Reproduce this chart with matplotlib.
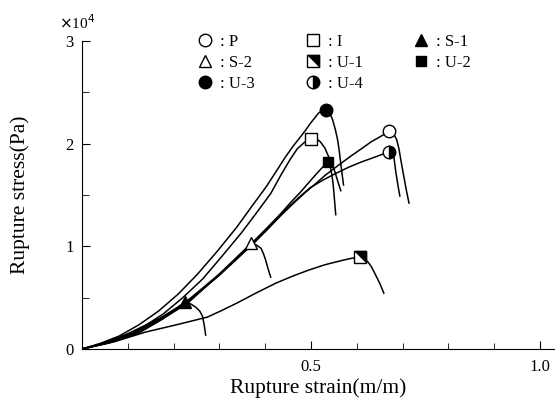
import matplotlib.pyplot as plt
from matplotlib.ticker import MultipleLocator

plt.rcParams['font.family'] = ['Liberation Serif', 'DejaVu Serif']

# strain (m/m) and stress (x1e4 Pa) along each loading curve, last point = rupture
p_x = [0, 0.05, 0.103, 0.17, 0.231, 0.30, 0.370, 0.404, 0.434, 0.462, 0.487, 0.510, 0.531,
       0.560, 0.587, 0.610, 0.632, 0.652, 0.670]
p_y = [0, 0.06, 0.155, 0.30, 0.466, 0.72, 1.009, 1.16, 1.299, 1.42, 1.523, 1.61, 1.692,
       1.79, 1.879, 1.95, 2.02, 2.07, 2.12]
p_tx = [0.670, 0.680, 0.687, 0.692, 0.697, 0.703, 0.708, 0.714]
p_ty = [2.12, 2.10, 2.04, 1.95, 1.82, 1.673, 1.55, 1.421]

i_x = [0, 0.045, 0.092, 0.135, 0.177, 0.22, 0.263, 0.305, 0.348, 0.380, 0.412, 0.435,
       0.455, 0.470, 0.485, 0.500]
i_y = [0, 0.05, 0.117, 0.22, 0.340, 0.50, 0.680, 0.90, 1.131, 1.32, 1.514, 1.70,
       1.85, 1.95, 2.01, 2.05]
i_tx = [0.500, 0.511, 0.520, 0.530, 0.537, 0.545, 0.552, 0.558, 0.565]
i_ty = [2.05, 2.05, 2.02, 1.96, 1.888, 1.81, 1.729, 1.64, 1.542]

s1_x = [0, 0.04, 0.081, 0.124, 0.167, 0.195, 0.224]
s1_y = [0, 0.045, 0.107, 0.185, 0.282, 0.36, 0.456]
s1_tx = [0.224, 0.237, 0.248, 0.257, 0.263, 0.267, 0.270]
s1_ty = [0.456, 0.44, 0.408, 0.37, 0.32, 0.23, 0.136]

s2_x = [0, 0.06, 0.124, 0.175, 0.231, 0.30, 0.370]
s2_y = [0, 0.06, 0.155, 0.29, 0.447, 0.73, 1.03]
s2_tx = [0.370, 0.382, 0.391, 0.396, 0.400, 0.406, 0.412]
s2_ty = [1.03, 1.01, 0.98, 0.93, 0.88, 0.786, 0.70]

u1_x = [0, 0.07, 0.139, 0.21, 0.274, 0.305, 0.338, 0.380, 0.423, 0.46, 0.494, 0.530,
        0.569, 0.590, 0.607]
u1_y = [0, 0.07, 0.165, 0.24, 0.311, 0.375, 0.447, 0.545, 0.641, 0.71, 0.767, 0.82,
        0.864, 0.885, 0.893]
u1_tx = [0.607, 0.617, 0.625, 0.632, 0.638, 0.650, 0.659]
u1_ty = [0.893, 0.875, 0.845, 0.80, 0.748, 0.641, 0.544]

u2_x = [0, 0.06, 0.124, 0.175, 0.224, 0.30, 0.370, 0.404, 0.434, 0.456, 0.476, 0.493,
        0.509, 0.523, 0.537]
u2_y = [0, 0.065, 0.165, 0.29, 0.447, 0.73, 1.028, 1.18, 1.318, 1.43, 1.523, 1.61,
        1.692, 1.76, 1.822]
u2_tx = [0.537, 0.542, 0.545, 0.548, 0.550, 0.554]
u2_ty = [1.822, 1.78, 1.71, 1.62, 1.523, 1.308]

u3_x = [0, 0.04, 0.081, 0.124, 0.167, 0.21, 0.252, 0.295, 0.338, 0.370, 0.402, 0.424,
        0.444, 0.460, 0.476, 0.488, 0.498, 0.508, 0.516, 0.525, 0.533]
u3_y = [0, 0.055, 0.126, 0.235, 0.369, 0.535, 0.728, 0.950, 1.187, 1.385, 1.579, 1.730,
        1.869, 1.970, 2.061, 2.13, 2.194, 2.25, 2.296, 2.325, 2.327]
u3_tx = [0.533, 0.541, 0.547, 0.553, 0.558, 0.562, 0.565, 0.571]
u3_ty = [2.327, 2.30, 2.235, 2.14, 2.041, 1.92, 1.804, 1.598]

u4_x = [0, 0.055, 0.113, 0.17, 0.231, 0.30, 0.376, 0.410, 0.444, 0.472, 0.498, 0.526,
        0.554, 0.582, 0.609, 0.640, 0.670]
u4_y = [0, 0.06, 0.155, 0.29, 0.456, 0.72, 1.037, 1.20, 1.355, 1.47, 1.57, 1.645,
        1.71, 1.77, 1.82, 1.87, 1.92]
u4_tx = [0.670, 0.677, 0.681, 0.683, 0.685, 0.690, 0.694]
u4_ty = [1.92, 1.90, 1.87, 1.80, 1.73, 1.59, 1.49]

names = ['P', 'I', 'S-1', 'S-2', 'U-1', 'U-2', 'U-3', 'U-4']
curves = [(p_x, p_y, p_tx, p_ty), (i_x, i_y, i_tx, i_ty), (s1_x, s1_y, s1_tx, s1_ty),
          (s2_x, s2_y, s2_tx, s2_ty), (u1_x, u1_y, u1_tx, u1_ty), (u2_x, u2_y, u2_tx, u2_ty),
          (u3_x, u3_y, u3_tx, u3_ty), (u4_x, u4_y, u4_tx, u4_ty)]

styles = {
    'P': [dict(marker='o', ms=9, mfc='white')],
    'I': [dict(marker='s', ms=8.5, mfc='white')],
    'S-1': [dict(marker='^', ms=8, mfc='black')],
    'S-2': [dict(marker='^', ms=8, mfc='white')],
    'U-1': [dict(marker='s', ms=8, mfc='white'),
            dict(marker=[(-1, 1), (1, 1), (1, -1)], ms=8, mfc='black')],
    'U-2': [dict(marker='s', ms=7, mfc='black')],
    'U-3': [dict(marker='o', ms=9, mfc='black')],
    'U-4': [dict(marker='o', ms=9, mfc='black', fillstyle='right', markerfacecoloralt='white')],
}

fig = plt.figure(figsize=(5.55, 3.99), dpi=100)
ax = fig.add_axes([82 / 555, 50 / 399, 473 / 555, 308 / 399])

handles = {}
for name, (x, y, tx, ty) in zip(names, curves):
    ax.plot(x, y, color='black', lw=1.1, zorder=2, solid_joinstyle='round')
    ax.plot(tx, ty, color='black', lw=1.1, zorder=2, solid_joinstyle='round')
    hs = []
    for st in styles[name]:
        h, = ax.plot(x[-1], y[-1], ls='none', mec='black', mew=1.0, color='black',
                     zorder=3, clip_on=False, **st)
        hs.append(h)
    handles[name] = tuple(hs) if len(hs) > 1 else hs[0]

order = ['P', 'S-2', 'U-3', 'I', 'U-1', 'U-4', 'S-1', 'U-2']
ax.legend([handles[n] for n in order], [': ' + n for n in order], ncol=3,
          loc='upper left', bbox_to_anchor=(0.354, 0.915), bbox_transform=fig.transFigure,
          frameon=False, fontsize=12, handlelength=1.0, handletextpad=0.4,
          columnspacing=3.0, labelspacing=0.3, borderpad=0, borderaxespad=0)

ax.set_xlim(0, 473 / 458)
ax.set_ylim(0, 3)
ax.spines['top'].set_visible(False)
ax.spines['right'].set_visible(False)
ax.xaxis.set_minor_locator(MultipleLocator(0.1))
ax.yaxis.set_major_locator(MultipleLocator(1))
ax.yaxis.set_minor_locator(MultipleLocator(0.5))
ax.set_xticks([0.5, 1.0])
ax.set_xticklabels(['0.5', '1.0'])
ax.tick_params(axis='both', which='both', direction='in', labelsize=12)
ax.tick_params(axis='x', which='major', length=6, pad=7)
ax.tick_params(axis='x', which='minor', length=4)
ax.tick_params(axis='y', which='major', length=6, pad=6)
ax.tick_params(axis='y', which='minor', length=5)

ax.set_xlabel('Rupture strain(m/m)', fontsize=15.5, va='baseline')
ax.set_ylabel('Rupture stress(Pa)', fontsize=15.5, va='center')
ax.xaxis.set_label_coords(0.5, -0.142)
ax.yaxis.set_label_coords(-0.13, 0.5)
ax.text(-0.01, 1.058, r'$\times$10$^4$', transform=ax.transAxes, ha='center', va='center',
        fontsize=11)

fig.savefig('out.png', dpi=100)
